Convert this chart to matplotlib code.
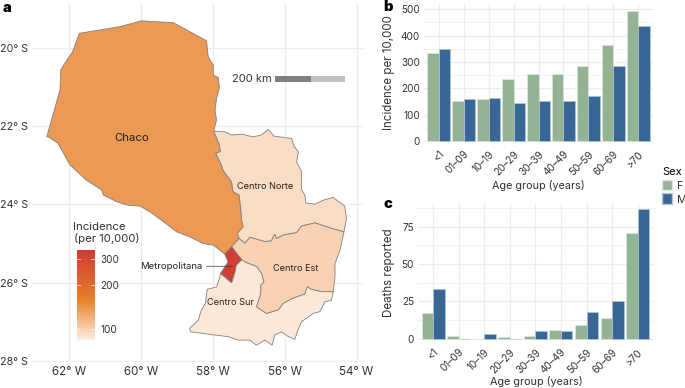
import matplotlib
matplotlib.use('Agg')
import matplotlib.pyplot as plt
from matplotlib.colors import LinearSegmentedColormap, LogNorm
from matplotlib.patches import Patch, Rectangle
from matplotlib.cm import ScalarMappable

plt.rcParams['font.family'] = ['Inter', 'DejaVu Sans']

# region borders, (lon, lat)
chaco_north = [(-61.91, -20.09), (-61.72, -19.62), (-60.59, -19.45), (-59.99, -19.30), (-59.10, -19.35),
               (-58.18, -19.81), (-58.13, -20.22), (-57.99, -20.44), (-57.99, -20.69), (-57.85, -20.75),
               (-57.82, -21.01), (-57.90, -21.29), (-57.94, -21.59), (-57.90, -21.84), (-57.98, -22.12)]
chaco_east = [(-57.83, -22.44), (-57.79, -22.65), (-57.92, -22.69), (-57.76, -22.99), (-57.72, -23.12),
              (-57.48, -23.42), (-57.44, -23.67), (-57.27, -23.76), (-57.23, -24.06), (-57.20, -24.40),
              (-57.16, -24.57), (-57.32, -24.74), (-57.27, -24.87)]
chaco_south = [(-57.48, -25.08), (-57.67, -25.27), (-57.99, -25.04), (-58.27, -25.00), (-58.64, -24.83),
               (-59.01, -24.70), (-59.38, -24.44), (-59.75, -24.19), (-60.03, -24.04), (-60.36, -24.02),
               (-60.68, -23.93), (-61.05, -23.76), (-61.10, -23.63), (-61.52, -23.38), (-61.98, -22.99),
               (-62.21, -22.61), (-62.31, -22.44), (-62.58, -22.27), (-62.63, -22.27), (-62.26, -21.07),
               (-62.24, -20.55)]
norte_outer = [(-57.67, -22.14), (-57.48, -22.22), (-57.20, -22.20), (-56.88, -22.27), (-56.65, -22.22),
               (-56.46, -22.08), (-56.30, -22.25), (-55.81, -22.31), (-55.74, -22.51), (-55.62, -22.65),
               (-55.67, -22.91), (-55.53, -23.16), (-55.53, -23.63), (-55.44, -23.76), (-55.41, -23.96),
               (-55.16, -23.99), (-54.93, -23.89), (-54.65, -23.82), (-54.33, -24.04), (-54.28, -24.36),
               (-54.35, -24.70)]
norte_est = [(-54.70, -24.61), (-55.16, -24.47), (-55.53, -24.55), (-55.67, -24.72), (-56.04, -24.78),
             (-56.23, -24.87), (-56.28, -24.76), (-56.37, -24.93), (-56.55, -24.95), (-56.97, -24.84),
             (-57.11, -24.99)]
est_east = [(-54.46, -25.17), (-54.60, -25.51), (-54.60, -25.85), (-54.65, -26.23)]
est_sur = [(-54.98, -26.23), (-55.27, -26.17), (-55.37, -26.10), (-55.44, -26.29), (-55.77, -26.40),
           (-56.04, -26.53), (-56.18, -26.70), (-56.51, -26.79), (-56.79, -26.62), (-56.67, -26.28),
           (-56.67, -26.06), (-56.58, -25.98), (-56.65, -25.76), (-56.78, -25.59), (-57.11, -25.47)]
metro_east = [(-57.48, -25.08), (-57.34, -25.25), (-57.20, -25.41)]
metro_south = [(-57.35, -25.55), (-57.40, -25.76), (-57.48, -26.00), (-57.79, -25.76)]
metro_west = [(-57.66, -25.59), (-57.58, -25.47), (-57.67, -25.27)]
sur_south = [(-54.70, -26.45), (-54.88, -26.49), (-55.02, -26.74), (-55.21, -26.79), (-55.53, -27.00),
             (-55.63, -27.21), (-55.72, -27.45), (-55.90, -27.38), (-56.09, -27.26), (-56.28, -27.34),
             (-56.35, -27.60), (-56.55, -27.47), (-56.79, -27.60), (-56.97, -27.47), (-57.30, -27.47),
             (-57.58, -27.38), (-57.95, -27.34), (-58.27, -27.30), (-58.62, -27.26), (-58.65, -27.17),
             (-58.41, -26.96), (-58.32, -26.70), (-58.21, -26.53), (-58.16, -26.17), (-57.90, -26.11),
             (-57.81, -25.87)]

# incidence per 10,000 by region
region_incidence = {'Chaco': 137, 'Centro Norte': 93, 'Centro Est': 99, 'Centro Sur': 87, 'Metropolitana': 330}

age_groups = ['<1', '01–09', '10–19', '20–29', '30–39', '40–49', '50–59', '60–69', '>70']
incidence_f = [333, 150, 160, 234, 255, 255, 284, 365, 493]
incidence_m = [348, 160, 164, 146, 150, 152, 172, 284, 438]
deaths_f = [17, 2, 0, 1, 2, 6, 9, 14, 71]
deaths_m = [33, 0, 3, 0, 5, 5, 18, 25, 87]

lat_ticks = [-20, -22, -24, -26, -28]
lon_ticks = [-62, -60, -58, -56, -54]

W, H = 685, 388
col_f = '#93b394'
col_m = '#386796'
grid_col = '#ededed'
text_col = '#333333'


def px_axes(x0, y0, x1, y1):
    # pixel box from the top left corner
    return fig.add_axes([x0 / W, 1 - y1 / H, (x1 - x0) / W, (y1 - y0) / H])


def draw_bars(ax, f, m, ylabel):
    xs = range(len(age_groups))
    ax.bar([x - 0.225 for x in xs], f, 0.45, color=col_f, edgecolor='#dfe8df', lw=0.5, zorder=3)
    ax.bar([x + 0.225 for x in xs], m, 0.45, color=col_m, edgecolor='#b4c6d8', lw=0.5, zorder=3)
    ax.set_xticks(list(xs))
    ax.set_xticklabels(age_groups, rotation=45, ha='right', rotation_mode='anchor')
    ax.set_xlim(-0.6, 8.6)
    ax.grid(True, which='major', color=grid_col, lw=0.9)
    ax.grid(True, which='minor', axis='y', color=grid_col, lw=0.5)
    ax.set_axisbelow(True)
    ax.tick_params(which='both', length=0, labelsize=7.2, labelcolor=text_col, pad=2.7)
    ax.tick_params(axis='x', pad=5)
    for s in ax.spines.values():
        s.set_visible(False)
    ax.set_ylabel(ylabel, fontsize=8.3, color=text_col, va='center')
    ax.set_xlabel('Age group (years)', fontsize=7.8, color=text_col, va='center')


fig = plt.figure(figsize=(W / 100, H / 100), dpi=100)

# map
ax = px_axes(32, 4, 363, 362)
cmap = LinearSegmentedColormap.from_list('inc', [(0, '#feeee2'), (0.444, '#e6812a'), (1, '#cf3a33')])
norm = LogNorm(84, 347)
regions = {
    'Chaco': chaco_north + chaco_east + chaco_south,
    'Centro Norte': chaco_north[-1:] + norte_outer + norte_est + chaco_east[::-1],
    'Centro Est': chaco_east[-1:] + norte_est[::-1] + norte_outer[-1:] + est_east + est_sur + metro_east[::-1],
    'Centro Sur': metro_east[-1:] + est_sur[::-1] + est_east[-1:] + sur_south + metro_south[-1:] + metro_south[-2::-1],
    'Metropolitana': metro_east + metro_south + metro_west,
}
for name, pts in regions.items():
    ax.fill([p[0] for p in pts], [p[1] for p in pts], facecolor=cmap(norm(region_incidence[name])),
            edgecolor='#808080', lw=0.6, zorder=3)
ax.set_xlim(-63.04, -53.82)
ax.set_ylim(-28.03, -18.87)
ax.set_xticks(lon_ticks)
ax.set_yticks(lat_ticks)
ax.set_xticklabels([f'{abs(v)}° W' for v in lon_ticks])
ax.set_yticklabels([f'{abs(v)}° S' for v in lat_ticks])
ax.grid(True, color=grid_col, lw=0.9)
ax.set_axisbelow(True)
ax.tick_params(length=0, labelsize=8.3, labelcolor=text_col, pad=3)
ax.tick_params(axis='y', labelsize=7.7, pad=3)
for s in ax.spines.values():
    s.set_visible(False)

ax.text(-60.26, -22.29, 'Chaco', fontsize=8.2, color='#222222', ha='center', va='center', zorder=5)
ax.text(-56.55, -23.53, 'Centro Norte', fontsize=6.6, color='#222222', ha='center', va='center', zorder=5)
ax.text(-55.69, -25.65, 'Centro Est', fontsize=6.6, color='#222222', ha='center', va='center', zorder=5)
ax.text(-57.51, -26.52, 'Centro Sur', fontsize=6.6, color='#222222', ha='center', va='center', zorder=5)
ax.annotate('Metropolitana', xy=(-57.46, -25.58), xytext=(-58.30, -25.58), fontsize=6.8, color='#222222',
            ha='right', va='center', zorder=5, arrowprops=dict(arrowstyle='-', color='#333333', lw=0.5,
                                                               shrinkA=1, shrinkB=0))

# scale bar
ax.add_patch(Rectangle((-56.27, -20.86), 0.99, 0.14, color='#808080', lw=0, zorder=4))
ax.add_patch(Rectangle((-55.28, -20.86), 0.97, 0.14, color='#c2c2c2', lw=0, zorder=4))
ax.text(-56.36, -20.78, '200 km', fontsize=8, color=text_col, ha='right', va='center', zorder=5)

# colour bar
cax = px_axes(76.5, 250, 95, 340)
cb = fig.colorbar(ScalarMappable(norm=norm, cmap=cmap), cax=cax)
cb.outline.set_visible(False)
cb.set_ticks([100, 200, 300], labels=['100', '200', '300'])
cb.minorticks_off()
cax.tick_params(length=0, labelsize=7.2, labelcolor=text_col, pad=4)
for v in [100, 200, 300]:
    cax.plot([0, 0.2], [v, v], color='white', lw=0.5, transform=cax.get_yaxis_transform())
    cax.plot([0.8, 1], [v, v], color='white', lw=0.5, transform=cax.get_yaxis_transform())
fig.text(73.5 / W, 1 - 233 / H, 'Incidence\n(per 10,000)', fontsize=8.2, color=text_col, ha='left', va='center',
         linespacing=1.1)

# panel b
ax_b = px_axes(423.7, 4, 653.3, 142)
draw_bars(ax_b, incidence_f, incidence_m, 'Incidence per 10,000')
ax_b.set_ylim(-3.8, 520)
ax_b.set_yticks([0, 100, 200, 300, 400, 500])
ax_b.set_yticks([50, 150, 250, 350, 450], minor=True)
ax_b.yaxis.set_label_coords((389 - 423.7) / 229.6, 0.5)
ax_b.xaxis.set_label_coords(0.498, (142 - 185.6) / 138)

# panel c
ax_c = px_axes(417.7, 202.7, 653, 340)
draw_bars(ax_c, deaths_f, deaths_m, 'Deaths reported')
ax_c.set_ylim(-0.9, 91)
ax_c.set_yticks([0, 25, 50, 75])
ax_c.set_yticks([12.5, 37.5, 62.5, 87.5], minor=True)
ax_c.yaxis.set_label_coords((389 - 417.7) / 235.3, 0.49)
ax_c.xaxis.set_label_coords(0.506, (340 - 381.7) / 137.3)

fig.legend(handles=[Patch(facecolor=col_f, edgecolor='#dfe8df', label='F'),
                    Patch(facecolor=col_m, edgecolor='#b4c6d8', label='M')],
           title='Sex', loc='upper left', bbox_to_anchor=(662 / W, 1 - 167 / H), frameon=False, fontsize=7.8,
           title_fontsize=8, alignment='left', handlelength=0.95, handleheight=1.15, handletextpad=0.4,
           labelspacing=0.25, labelcolor=text_col, borderpad=0, borderaxespad=0)

fig.text(3 / W, 1 - 8 / H, 'a', fontsize=10.5, fontweight='black', ha='left', va='center')
fig.text(383 / W, 1 - 7 / H, 'b', fontsize=10.5, fontweight='black', ha='left', va='center')
fig.text(383 / W, 1 - 204 / H, 'c', fontsize=10.5, fontweight='black', ha='left', va='center')

fig.savefig('out.png', dpi=100)
